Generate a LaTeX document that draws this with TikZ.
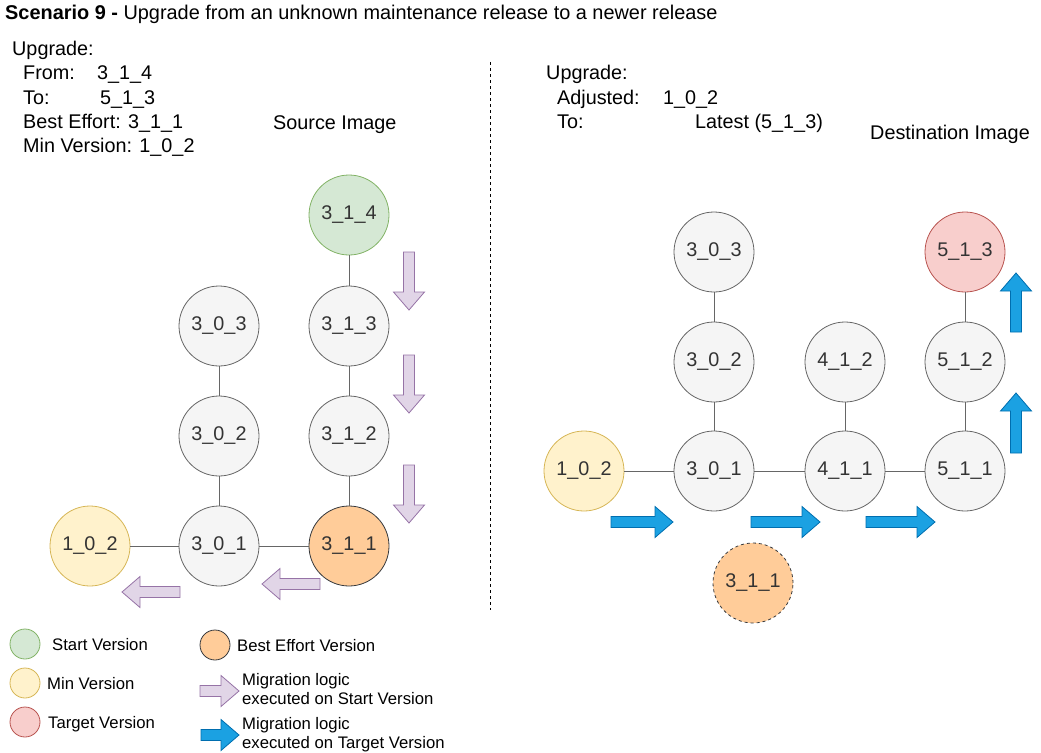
\documentclass[tikz,border=0pt]{standalone}
\usepackage{fontspec}
\setmainfont{Liberation Sans}
\definecolor{grayfill}{HTML}{F5F5F5}
\definecolor{graydraw}{HTML}{666666}
\definecolor{greenfill}{HTML}{D5E8D4}
\definecolor{greendraw}{HTML}{82B366}
\definecolor{yellowfill}{HTML}{FFF2CC}
\definecolor{yellowdraw}{HTML}{D6B656}
\definecolor{redfill}{HTML}{F8CECC}
\definecolor{reddraw}{HTML}{B85450}
\definecolor{orangefill}{HTML}{FFCC99}
\definecolor{orangedraw}{HTML}{36393D}
\definecolor{purplefill}{HTML}{E1D5E7}
\definecolor{purpledraw}{HTML}{9673A6}
\definecolor{bluefill}{HTML}{1BA1E2}
\definecolor{bluedraw}{HTML}{006EAF}
\definecolor{textgray}{HTML}{333333}
\begin{document}
\begin{tikzpicture}[x=1pt,y=-1pt,
  mainfont/.style={font=\fontsize{19.8}{23}\selectfont},
  titlefont/.style={font=\fontsize{19.9}{23}\selectfont},
  legfont/.style={font=\fontsize{16.7}{20}\selectfont},
  txt/.style={anchor=base west, inner sep=0pt, mainfont},
  legtxt/.style={anchor=base west, inner sep=0pt, legfont},
  vnode/.style={circle, minimum size=80pt, inner sep=0pt, line width=0.8pt,
    draw=graydraw, fill=grayfill, text=textgray, mainfont},
  startv/.style={vnode, draw=greendraw, fill=greenfill},
  minv/.style={vnode, draw=yellowdraw, fill=yellowfill},
  targetv/.style={vnode, draw=reddraw, fill=redfill},
  besteffv/.style={vnode, draw=orangedraw, fill=orangefill},
  legcircle/.style={circle, minimum size=30pt, inner sep=0pt, line width=0.8pt},
  edge/.style={draw=graydraw, line width=0.8pt},
  purplearrow/.style={draw=purpledraw, fill=purplefill, line width=0.8pt},
  bluearrow/.style={draw=bluedraw, fill=bluefill, line width=0.8pt},
  pics/blockarrow/.style={code={
    \draw[pic actions] (0,-5.5) -- ({#1-18},-5.5) -- ({#1-18},-15.5) -- (#1,0)
      -- ({#1-18},15.5) -- ({#1-18},5.5) -- (0,5.5) -- cycle;}}
]
\useasboundingbox (0,0) rectangle (1041,752);

% title
\node[txt, titlefont] (title) at (5,20) {\textbf{Scenario 9 -} Upgrade from an unknown maintenance release to a newer release};

% left info
\node[txt] (lup) at (12,56) {Upgrade:};
\node[txt] (lfrom) at (23,80) {From:};
\node[txt] (lfromv) at (97,80) {3\_1\_4};
\node[txt] (lto) at (23,104) {To:};
\node[txt] (ltov) at (100,104) {5\_1\_3};
\node[txt] (lbest) at (23,128) {Best Effort: 3\_1\_1};
\node[txt] (lmin) at (23,152) {Min Version: 1\_0\_2};
\node[txt] (src) at (273,129) {Source Image};

% right info
\node[txt] (rup) at (546,80) {Upgrade:};
\node[txt] (radj) at (557,104) {Adjusted:};
\node[txt] (radjv) at (663,104) {1\_0\_2};
\node[txt] (rto) at (557,128) {To:};
\node[txt] (rtov) at (695,128) {Latest (5\_1\_3)};
\node[txt] (dst) at (870,139) {Destination Image};

% divider
\coordinate (divtop) at (490,62);
\coordinate (divbot) at (490,610);
\draw[black, line width=0.6pt, dash pattern=on 3pt off 3pt] (divtop) -- (divbot);

% left graph
\node[startv] (a314) at (349,215) {3\_1\_4};
\node[vnode] (a313) at (349,326) {3\_1\_3};
\node[vnode] (a312) at (349,436) {3\_1\_2};
\node[besteffv] (a311) at (349,546) {3\_1\_1};
\node[vnode] (a303) at (219,326) {3\_0\_3};
\node[vnode] (a302) at (219,436) {3\_0\_2};
\node[vnode] (a301) at (219,546) {3\_0\_1};
\node[minv] (a102) at (90,546) {1\_0\_2};
\draw[edge] (a314) -- (a313);
\draw[edge] (a313) -- (a312);
\draw[edge] (a312) -- (a311);
\draw[edge] (a303) -- (a302);
\draw[edge] (a302) -- (a301);
\draw[edge] (a102) -- (a301);
\draw[edge] (a301) -- (a311);

\pic[purplearrow, rotate=-90] at (409,252) {blockarrow=58};
\pic[purplearrow, rotate=-90] at (409,355) {blockarrow=58};
\pic[purplearrow, rotate=-90] at (409,465) {blockarrow=58};
\pic[purplearrow, rotate=180] at (320,584) {blockarrow=58};
\pic[purplearrow, rotate=180] at (180,592) {blockarrow=58};

% right graph
\node[vnode] (b303) at (714,252) {3\_0\_3};
\node[vnode] (b302) at (714,362) {3\_0\_2};
\node[vnode] (b301) at (714,471) {3\_0\_1};
\node[vnode] (b412) at (845,362) {4\_1\_2};
\node[vnode] (b411) at (845,471) {4\_1\_1};
\node[targetv] (b513) at (965,252) {5\_1\_3};
\node[vnode] (b512) at (965,362) {5\_1\_2};
\node[vnode] (b511) at (965,471) {5\_1\_1};
\node[minv] (b102) at (584,471) {1\_0\_2};
\node[besteffv, dashed] (b311) at (753,583) {3\_1\_1};
\draw[edge] (b303) -- (b302);
\draw[edge] (b302) -- (b301);
\draw[edge] (b412) -- (b411);
\draw[edge] (b513) -- (b512);
\draw[edge] (b512) -- (b511);
\draw[edge] (b102) -- (b301);
\draw[edge] (b301) -- (b411);
\draw[edge] (b411) -- (b511);

\pic[bluearrow] at (611,522) {blockarrow=62};
\pic[bluearrow] at (751,522) {blockarrow=69};
\pic[bluearrow] at (866,522) {blockarrow=69};
\pic[bluearrow, rotate=90] at (1016,332) {blockarrow=59};
\pic[bluearrow, rotate=90] at (1016,453) {blockarrow=60};

% legend
\node[legcircle, draw=greendraw, fill=greenfill] (lgstart) at (25,644) {};
\node[legtxt] (lgstartt) at (52,650) {Start Version};
\node[legcircle, draw=yellowdraw, fill=yellowfill] (lgmin) at (25,683) {};
\node[legtxt] (lgmint) at (47,689) {Min Version};
\node[legcircle, draw=reddraw, fill=redfill] (lgtarget) at (25,722) {};
\node[legtxt] (lgtargett) at (48,728) {Target Version};
\node[legcircle, draw=orangedraw, fill=orangefill] (lgbest) at (215,645) {};
\node[legtxt] (lgbestt) at (237,651) {Best Effort Version};
\pic[purplearrow] at (200,691) {blockarrow=39};
\node[legtxt] (lgm1a) at (242,685) {Migration logic};
\node[legtxt] (lgm1b) at (242,704) {executed on Start Version};
\pic[bluearrow] at (201,735) {blockarrow=38};
\node[legtxt] (lgm2a) at (242,729) {Migration logic};
\node[legtxt] (lgm2b) at (242,748) {executed on Target Version};
\end{tikzpicture}
\end{document}
